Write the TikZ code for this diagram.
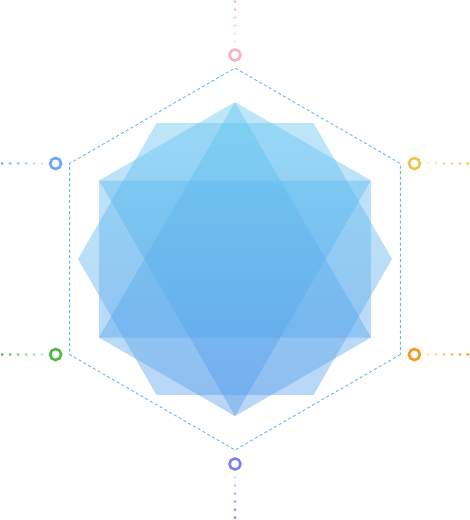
\documentclass[tikz,border=0pt]{standalone}
\usepackage{tikz}
\usepackage{xcolor}
\usetikzlibrary{positioning, calc}
\definecolor{cEdge}    {HTML}{6AB4EC}
\definecolor{cFillTop} {HTML}{5CC4F0}
\definecolor{cFillBot} {HTML}{4E96E8}
\definecolor{cPink}    {HTML}{F5B3BF}
\definecolor{cBlue}    {HTML}{6EA6F6}
\definecolor{cYellow}  {HTML}{EEC54A}
\definecolor{cGreen}   {HTML}{4DB84A}
\definecolor{cOrange}  {HTML}{F29A22}
\definecolor{cViolet}  {HTML}{7C80F2}
\tikzset{
  layer/.style={path picture={
      \shade[top color=cFillTop, bottom color=cFillBot, fill opacity=0.4]
        (-235,-156) rectangle (235,157);}},
  port/.style={circle, draw=#1, line width=2.6pt, minimum size=11pt, inner sep=0pt},
}
\begin{document}
\begin{tikzpicture}[x=1pt, y=-1pt]
  \useasboundingbox (0,0) rectangle (470,520);
  \begin{scope}[shift={(235,259)}]
    % flat and pointy hexagons
    \path[layer] (0:157) \foreach \a in {60,120,...,300}{ -- (\a:157)} -- cycle;
    \path[layer] (30:157) \foreach \a in {90,150,...,330}{ -- (\a:157)} -- cycle;
    % the two triangles
    \path[layer] (270:157) -- (30:157) -- (150:157) -- cycle;
    \path[layer] (90:157) -- (210:157) -- (330:157) -- cycle;
    % dashed frame
    \draw[cEdge, line width=0.9pt, dash pattern=on 3pt off 2.5pt]
      (30:191) \foreach \a in {90,150,...,330}{ -- (\a:191)} -- cycle;
    \foreach \a/\nm in {270/vT, 210/vUL, 330/vUR, 150/vLL, 30/vLR, 90/vB}
      \coordinate (\nm) at (\a:191);
  \end{scope}

  \node[port=cPink]   (pT)  [above=6.2pt of vT]  {};
  \node[port=cBlue]   (pUL) [left=7.2pt of vUL]  {};
  \node[port=cYellow] (pUR) [right=7.2pt of vUR] {};
  \node[port=cGreen]  (pLL) [left=7.2pt of vLL]  {};
  \node[port=cOrange] (pLR) [right=7.2pt of vLR] {};
  \node[port=cViolet] (pB)  [below=7.2pt of vB]  {};

  % fading dots out to the edge
  \foreach \nm/\col/\ux/\uy in {pT/cPink/0/-1, pUL/cBlue/-1/0, pUR/cYellow/1/0,
                                pLL/cGreen/-1/0, pLR/cOrange/1/0, pB/cViolet/0/1}{
    \foreach \j in {0,...,5}{
      \pgfmathsetmacro{\op}{0.3 + 0.14*\j}
      \fill[\col, opacity=\op] ($(\nm)+({(13.5+8*\j)*\ux},{(13.5+8*\j)*\uy})$) circle (1.5);
    }
  }
\end{tikzpicture}
\end{document}
